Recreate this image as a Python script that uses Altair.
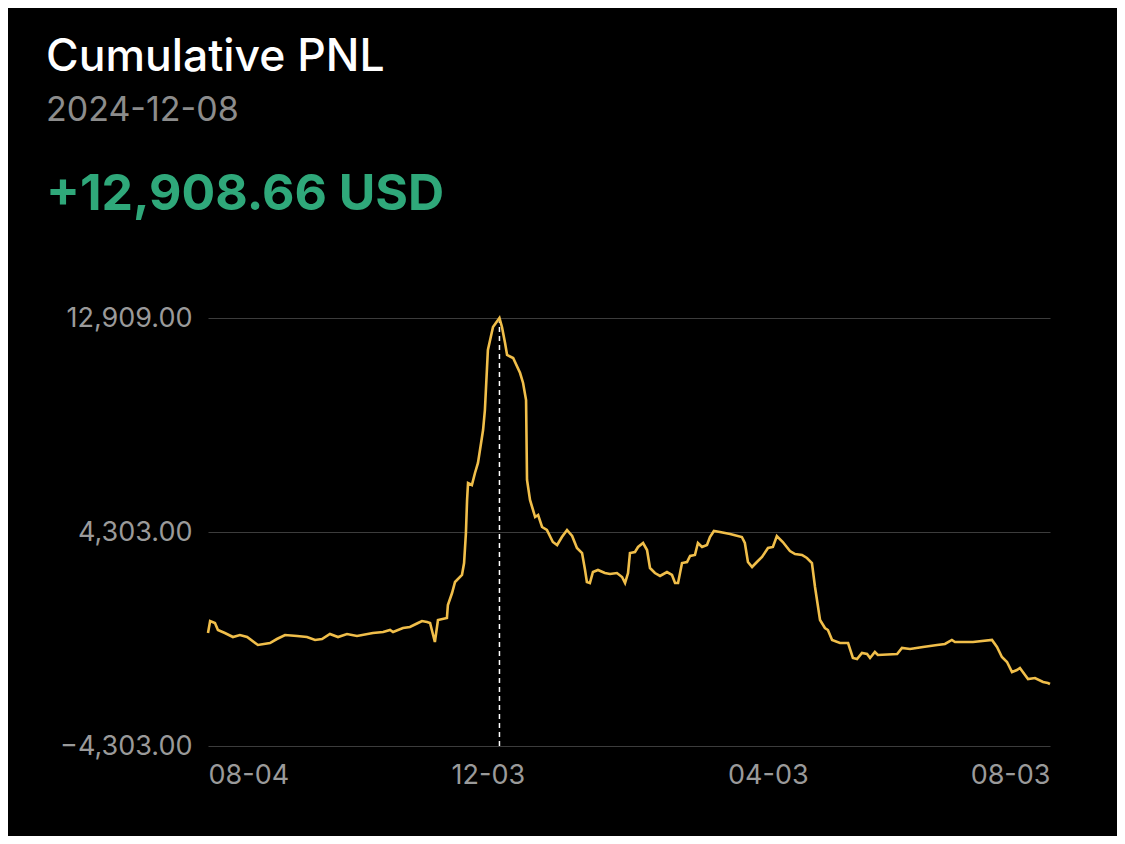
import altair as alt
import pandas as pd

# days since 2024-08-04 and cumulative PNL (USD)
day_offset = [0, 0.9, 3.0, 4.3, 7.3, 10.8, 13.8, 16.9, 21.6, 26.8, 29.8, 33.3, 38.5, 42.8, 46.3,
              49.3, 52.7, 56.2, 60.1, 64.4, 71.3, 75.7, 78.7, 80.0, 84.3, 87.3, 90.8, 92.5, 94.7,
              96.0, 98.1, 99.4, 103.3, 103.7, 105.5, 106.8, 109.8, 110.7, 111.5, 112.0, 112.4,
              114.1, 115.4, 116.7, 118.9, 119.7, 121.0, 123.2, 126.0, 127.1, 128.4, 129.3, 131.9,
              134.9, 136.2, 137.5, 137.9, 139.2, 140.5, 141.4, 142.7, 144.4, 146.5, 149.1, 150.9,
              153.0, 155.2, 157.4, 159.5, 161.7, 163.0, 163.8, 165.1, 166.4, 168.6, 171.6, 173.8,
              176.8, 179.0, 180.3, 181.6, 182.4, 184.6, 185.9, 188.1, 189.8, 191.1, 193.2, 195.4,
              198.4, 200.6, 201.9, 203.2, 204.9, 207.1, 208.4, 210.5, 211.8, 213.6, 215.7, 217.0,
              218.7, 221.3, 225.7, 230.8, 232.1, 233.4, 235.2, 237.3, 239.5, 242.1, 244.2, 245.9,
              248.5, 251.6, 253.8, 256.8, 258.9, 261.1, 262.4, 264.6, 266.7, 268.0, 269.8, 273.2,
              276.7, 278.8, 280.6, 282.7, 284.9, 286.2, 288.3, 289.6, 297.9, 300.0, 303.5, 309.1,
              315.2, 318.6, 321.6, 322.9, 330.7, 338.9, 341.1, 343.2, 345.4, 347.6, 349.7, 351.0,
              353.2, 354.5, 357.5, 361.0, 363.1, 364.0]
pnl = [241, 724, 643, 362, 241, 80, 161, 80, -241, -161, 0, 161, 121, 80, -40,
       0, 201, 80, 201, 121, 241, 281, 362, 281, 442, 483, 643, 724, 684,
       643, -121, 764, 844, 1367, 1850, 2292, 2574, 3056, 4263, 5590, 6274,
       6193, 6676, 7078, 8405, 9209, 11622, 12547, 12908.66, 12547, 11904, 11421, 11300,
       10697, 10295, 9611, 6394, 5590, 5188, 4906, 4987, 4504, 4383, 3901, 3780,
       4102, 4383, 4142, 3660, 3458, 2775, 2292, 2252, 2694, 2775, 2654, 2614,
       2654, 2493, 2252, 2654, 3458, 3499, 3700, 3861, 3579, 2855, 2654, 2534,
       2694, 2574, 2252, 2252, 3056, 3097, 3338, 3378, 3861, 3700, 3780, 4102,
       4343, 4303, 4223, 4102, 3861, 3097, 2895, 3097, 3298, 3660, 3700, 4142,
       3901, 3539, 3418, 3378, 3257, 3056, 2091, 764, 442, 362, -40, -161,
       -161, -764, -804, -563, -603, -764, -523, -643, -603, -362, -402, -322,
       -241, -201, -40, -121, -121, -40, -322, -724, -925, -1327, -1247, -1166,
       -1448, -1609, -1568, -1729, -1769, -1810]

tick_values = [-4303, 4303, 12909]
title_text = "Cumulative PNL"
date_text = "2024-12-08"
value_text = "+12,908.66 USD"
peak_date = "2024-12-08"
peak_value = 12908.66

start = pd.Timestamp("2024-08-04")
df = pd.DataFrame({
    "date": [(start + pd.Timedelta(hours=round(d * 24))).strftime("%Y-%m-%dT%H:%M:%S") for d in day_offset],
    "pnl": pnl,
})

FONT = "Inter"

x_scale = alt.Scale(domain=[alt.DateTime(year=2024, month=8, date=4),
                            alt.DateTime(year=2025, month=8, date=3)])
y_scale = alt.Scale(domain=[tick_values[0], tick_values[-1]], nice=False, zero=False)

x_axis = alt.Axis(
    values=[alt.DateTime(year=2024, month=8, date=4), alt.DateTime(year=2024, month=12, date=3),
            alt.DateTime(year=2025, month=4, date=3), alt.DateTime(year=2025, month=8, date=3)],
    format="%m-%d", title=None, grid=False, ticks=False, domain=False,
    labelFlush=True, labelColor="#9a9a9a", labelFont=FONT, labelFontSize=27,
    labelPadding=16, labelBaseline="top")
y_axis = alt.Axis(
    values=tick_values, format=",.2f", title=None, ticks=False, domain=False,
    grid=True, gridColor="#3c3c3c", gridWidth=1.2,
    labelColor="#9a9a9a", labelFont=FONT, labelFontSize=27, labelPadding=16)

line = alt.Chart(df).mark_line(color="#F0BE4A", strokeWidth=2.6, interpolate="linear").encode(
    x=alt.X("date:T", scale=x_scale, axis=x_axis),
    y=alt.Y("pnl:Q", scale=y_scale, axis=y_axis),
)

rule = alt.Chart(pd.DataFrame({"date": [peak_date + "T00:00:00"], "v": [peak_value]})).mark_rule(
    color="#ffffff", strokeWidth=1.5, strokeDash=[5, 4]).encode(
    x="date:T", y="v:Q", y2=alt.datum(tick_values[0]))

t1 = alt.Chart(pd.DataFrame({"t": [title_text]})).mark_text(
    align="left", baseline="alphabetic", font=FONT, fontSize=44.5, color="#ffffff", fontWeight=500
).encode(x=alt.value(-162), y=alt.value(-247), text="t:N")
t2 = alt.Chart(pd.DataFrame({"t": [date_text]})).mark_text(
    align="left", baseline="alphabetic", font=FONT, fontSize=34, color="#8c8c8c"
).encode(x=alt.value(-162), y=alt.value(-197), text="t:N")
t3 = alt.Chart(pd.DataFrame({"t": [value_text]})).mark_text(
    align="left", baseline="alphabetic", font=FONT, fontSize=50, color="#2FA87A", fontWeight="bold"
).encode(x=alt.value(-162), y=alt.value(-108), text="t:N")

chart = alt.layer(rule, line, t1, t2, t3).properties(
    width=842, height=428,
    autosize=alt.AutoSizeParams(type="none"),
    padding={"left": 200, "top": 310, "right": 67, "bottom": 90},
    background="#000000",
).configure_view(stroke=None)

chart.save("out.html", embed_options={"renderer": "svg", "actions": False})
